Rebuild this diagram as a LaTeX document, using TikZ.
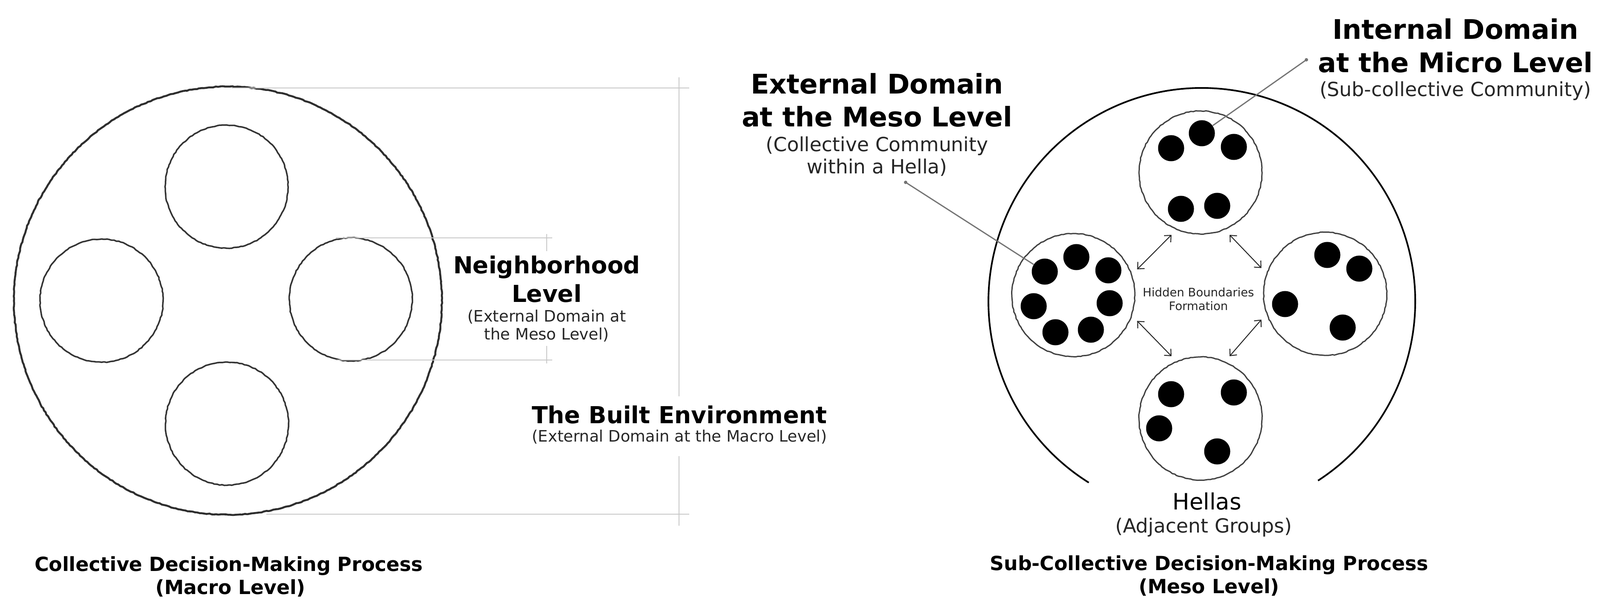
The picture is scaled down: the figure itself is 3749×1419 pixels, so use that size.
\documentclass[tikz,border=0pt]{standalone}
\usepackage{fontspec}
\setmainfont{DejaVu Sans}
\usetikzlibrary{arrows.meta,decorations.pathmorphing}
\newcommand{\fsz}[1]{\fontsize{#1}{#1}\selectfont}
\begin{document}
\begin{tikzpicture}[x=0.01cm,y=-0.01cm,
  pencil/.style={decorate,decoration={random steps,segment length=1.6pt,amplitude=0.25pt}},
  bigring/.style={circle,draw=black!82,line width=1.3pt,minimum size=10.02cm,inner sep=0pt,pencil},
  ring/.style={circle,draw=black!80,line width=1.0pt,minimum size=2.88cm,inner sep=0pt,pencil},
  grp/.style={circle,draw=black!75,line width=0.85pt,minimum size=2.88cm,inner sep=0pt,outer sep=0.17cm,pencil},
  member/.style={circle,fill=black,minimum size=0.61cm,inner sep=0pt},
  guide/.style={draw=black!22,line width=0.7pt},
  leader/.style={draw=black!55,line width=0.8pt},
  link/.style={{Straight Barb[length=0.12cm,width=0.22cm]}-{Straight Barb[length=0.12cm,width=0.22cm]},line width=0.6pt,black!85},
  head/.style={font={\bfseries\fsz{15.6}},anchor=base,inner sep=0pt},
  sub/.style={font={\fsz{10.5}},anchor=base,inner sep=0pt,black!85},
  bighead/.style={font={\bfseries\fsz{18}},anchor=base,inner sep=0pt},
  bigsub/.style={font={\fsz{13}},anchor=base,inner sep=0pt,black!85},
  capt/.style={font={\bfseries\fsz{13}},anchor=base,inner sep=0pt},
  tiny/.style={font={\fsz{7.8}},anchor=base,inner sep=0pt,black!85}
]
\useasboundingbox (0,0) rectangle (3749,1419);

% ---------- left panel ----------
\node[bigring] (Lbig) at (534,704) {};
\node[ring] (Lt) at (531,437) {};
\node[ring] (Ll) at (238,704) {};
\node[ring] (Lr) at (822,701) {};
\node[ring] (Lb) at (532,992) {};

% guide brackets
\path[guide] (543,206) -- (1615,206);
\path[guide] (624,1204) -- (1615,1204);
\path[guide] (1591,181) -- (1591,928);
\path[guide] (1591,1068) -- (1591,1231);
\path[guide] (787,557) -- (1294,557);
\path[guide] (787,843) -- (1294,843);
\path[guide] (1281,548) -- (1281,588);
\path[guide] (1281,810) -- (1281,851);

\node[head] (nb1) at (1281,641) {Neighborhood};
\node[head] (nb2) at (1281,707) {Level};
\node[sub] (nb3) at (1281,753) {(External Domain at};
\node[sub] (nb4) at (1281,795) {the Meso Level)};

\node[head] (be1) at (1592,991) {The Built Environment};
\node[sub] (be2) at (1592,1034) {(External Domain at the Macro Level)};

\node[capt] (c1) at (536,1337) {Collective Decision-Making Process};
\node[capt] (c2) at (540,1391) {(Macro Level)};

% ---------- right panel ----------
\draw[line width=1.1pt] (2816,706) ++(57:500) arc[start angle=57,end angle=-238,radius=500];

\node[grp] (G1) at (2813,404) {};
\node[grp] (G2) at (2515,691) {};
\node[grp] (G3) at (3105,688) {};
\node[grp] (G4) at (2813,980) {};

\foreach \n/\p in {t1/{2744,347},t2/{2816,312},t3/{2891,344},t4/{2767,489},t5/{2852,482},
  l1/{2448,636},l2/{2522,602},l3/{2597,633},l4/{2422,717},l5/{2600,710},l6/{2473,778},l7/{2556,772},
  r1/{3110,597},r2/{3185,629},r3/{3011,712},r4/{3146,767},
  b1/{2744,923},b2/{2891,919},b3/{2716,1003},b4/{2852,1057}}
  \node[member] (\n) at (\p) {};

\draw[link] (G1.-115) -- (G2.22);
\draw[link] (G1.-65) -- (G3.158);
\draw[link] (G2.-22) -- (G4.115);
\draw[link] (G3.-158) -- (G4.65);

\node[tiny] (hb1) at (2808,694) {Hidden Boundaries};
\node[tiny] (hb2) at (2808,726) {Formation};

\coordinate (me) at (2122,427);
\coordinate (mi) at (3061,140);
\fill[black!55] (me) circle[radius=4];
\fill[black!55] (mi) circle[radius=4];
\draw[leader] (me) -- (l1);
\draw[leader] (mi) -- (t2);

\node[bighead] (ex1) at (2055,220) {External Domain};
\node[bighead] (ex2) at (2055,297) {at the Meso Level};
\node[bigsub] (ex3) at (2055,355) {(Collective Community};
\node[bigsub] (ex4) at (2055,407) {within a Hella)};

\node[bighead] (in1) at (3410,92) {Internal Domain};
\node[bighead] (in2) at (3410,170) {at the Micro Level};
\node[bigsub] (in3) at (3410,226) {(Sub-collective Community)};

\node[font={\fsz{15}},anchor=base,inner sep=0pt] (he1) at (2828,1193) {Hellas};
\node[bigsub] (he2) at (2820,1247) {(Adjacent Groups)};

\node[capt] (c3) at (2833,1335) {Sub-Collective Decision-Making Process};
\node[capt] (c4) at (2833,1389) {(Meso Level)};
\end{tikzpicture}
\end{document}
